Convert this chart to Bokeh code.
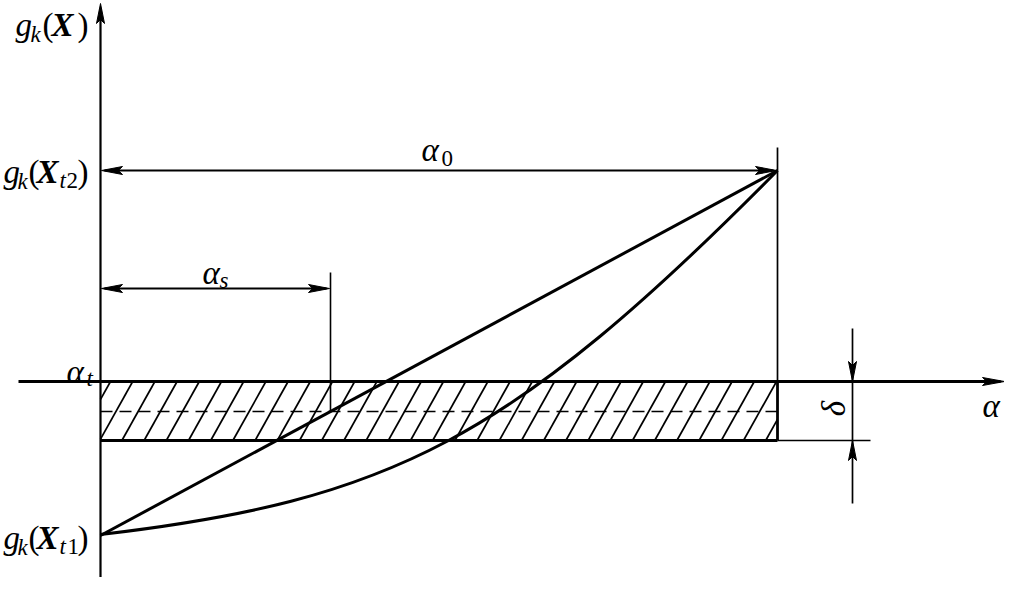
import math
from bokeh.plotting import figure
from bokeh.models import Range1d
from bokeh.core.properties import value
from bokeh.embed import file_html
from bokeh.resources import INLINE

# ---- schematic values (drawing units) ----
x_origin = 100          # g_k(X) axis position
alpha_axis_y = 381      # alpha_t level (alpha axis)
delta_low_y = 440       # lower edge of tolerance band
dashed_y = 411          # middle dashed line
g_t1 = 535              # g_k(X_t1)
g_t2 = 170              # g_k(X_t2)
alpha_s = 330
alpha_0 = 777
alpha_s_dim_y = 288
delta_x = 852

# straight limit-state line
line_x = [100, 777]
line_y = [535, 170]
# curved limit-state line: start, two control points, end (cubic Bezier)
curve_start = (100, 534)
curve_c1 = (390, 500)
curve_c2 = (510, 440)
curve_end = (777, 170)

p = figure(width=1004, height=577, x_range=Range1d(0, 1004), y_range=Range1d(577, 0),
           output_backend="svg", toolbar_location=None, min_border=0)
p.axis.visible = False
p.grid.visible = False
p.outline_line_color = None
p.background_fill_color = "white"
p.border_fill_color = "white"

K = "black"

def arrowhead(tip, direction, L=21, w=4.0, notch=0.8):
    dx, dy = direction
    n = math.hypot(dx, dy)
    dx, dy = dx / n, dy / n
    nx, ny = -dy, dx
    tx, ty = tip
    xs = [tx, tx - L * dx + w * nx, tx - notch * L * dx, tx - L * dx - w * nx]
    ys = [ty, ty - L * dy + w * ny, ty - notch * L * dy, ty - L * dy - w * ny]
    return xs, ys

heads_x, heads_y = [], []
def add_head(tip, d, **kw):
    xs, ys = arrowhead(tip, d, **kw)
    heads_x.append(xs)
    heads_y.append(ys)

# hatch lines inside the band
spacing = 22.2
shift = 33
hx, hy = [], []
band_h = delta_low_y - alpha_axis_y
for k in range(-3, 40):
    xt = 110 + k * spacing
    xb = xt - shift
    t0 = max(0.0, (x_origin - xb) / shift)
    t1 = min(1.0, (alpha_0 - xb) / shift)
    if t0 < t1:
        hx.append([xb + t0 * shift, xb + t1 * shift])
        hy.append([delta_low_y - t0 * band_h, delta_low_y - t1 * band_h])
p.multi_line(hx, hy, line_color=K, line_width=1.7)

# dashed centre line
p.line([x_origin, alpha_0], [dashed_y, dashed_y], line_color=K, line_width=1.4, line_dash="12 7")

# axes
p.line([x_origin, x_origin], [577, 8], line_color=K, line_width=2.2)
add_head((x_origin, 3), (0, -1), L=20, w=4)
p.line([18, 1000], [alpha_axis_y, alpha_axis_y], line_color=K, line_width=2.8)
add_head((1004, alpha_axis_y), (1, 0), L=22, w=4)

# band lower edge and right edge
p.line([x_origin, alpha_0], [delta_low_y, delta_low_y], line_color=K, line_width=3)
p.line([alpha_0, alpha_0], [alpha_axis_y, delta_low_y], line_color=K, line_width=2.8)
p.line([alpha_0, alpha_0], [147, alpha_axis_y], line_color=K, line_width=1.7)
p.line([alpha_0, 870], [delta_low_y, delta_low_y], line_color=K, line_width=1.7)

# alpha_0 dimension
p.line([x_origin + 4, alpha_0 - 4], [g_t2, g_t2], line_color=K, line_width=2)
add_head((x_origin + 1, g_t2), (-1, 0))
add_head((alpha_0 - 1, g_t2), (1, 0))

# alpha_s dimension
p.line([alpha_s, alpha_s], [272, dashed_y], line_color=K, line_width=1.6)
p.line([x_origin + 4, alpha_s - 4], [alpha_s_dim_y, alpha_s_dim_y], line_color=K, line_width=2)
add_head((x_origin + 1, alpha_s_dim_y), (-1, 0))
add_head((alpha_s - 1, alpha_s_dim_y), (1, 0))

# delta dimension
p.line([delta_x, delta_x], [328, 503], line_color=K, line_width=1.7)
add_head((delta_x, alpha_axis_y), (0, 1), L=20, w=4)
add_head((delta_x, delta_low_y), (0, -1), L=20, w=4)

# limit-state lines
p.line(line_x, line_y, line_color=K, line_width=3)
p.bezier(x0=[curve_start[0]], y0=[curve_start[1]], x1=[curve_end[0]], y1=[curve_end[1]],
         cx0=[curve_c1[0]], cy0=[curve_c1[1]], cx1=[curve_c2[0]], cy1=[curve_c2[1]],
         line_color=K, line_width=3)

p.patches(heads_x, heads_y, fill_color=K, line_color=K, line_width=1)

# texts (pieces with mixed styles)
M, S = "33px", "23px"
pieces = [
    # g_k(X)
    ("g", 15, 24, "italic", M), ("k", 30, 34, "italic", S), ("(", 42, 24, "normal", M),
    ("X", 51, 24, "bold italic", M), (")", 77, 24, "normal", M),
    # g_k(X_t2)
    ("g", 3, 171, "italic", M), ("k", 17, 181, "italic", S), ("(", 28, 171, "normal", M),
    ("X", 36, 171, "bold italic", M), ("t", 59, 180, "italic", S), ("2", 66, 180, "normal", S),
    (")", 77, 171, "normal", M),
    # g_k(X_t1)
    ("g", 3, 537, "italic", M), ("k", 17, 547, "italic", S), ("(", 28, 537, "normal", M),
    ("X", 36, 537, "bold italic", M), ("t", 59, 546, "italic", S), ("1", 67, 546, "normal", S),
    (")", 77, 537, "normal", M),
    # alpha_t
    ("α", 66, 371, "italic", M), ("t", 86, 378, "italic", S),
    # alpha_0
    ("α", 421, 149, "italic", M), ("0", 441, 158, "normal", S),
    # alpha_s
    ("α", 202, 272, "italic", M), ("s", 219, 280, "italic", S),
    # alpha axis label
    ("α", 982, 405, "italic", M),
]
p.text(x=[q[1] for q in pieces], y=[q[2] for q in pieces], text=[q[0] for q in pieces],
       text_font=value("Liberation Serif"), text_font_style=[q[3] for q in pieces],
       text_font_size=[q[4] for q in pieces], text_color=K,
       text_align="left", text_baseline="alphabetic")

p.text(x=[833], y=[408], text=["δ"], text_font=value("Liberation Serif"),
       text_font_style="italic", text_font_size=M, text_color=K,
       text_align="center", text_baseline="middle", angle=math.pi / 2)

open("out.html", "w").write(file_html(p, INLINE))
